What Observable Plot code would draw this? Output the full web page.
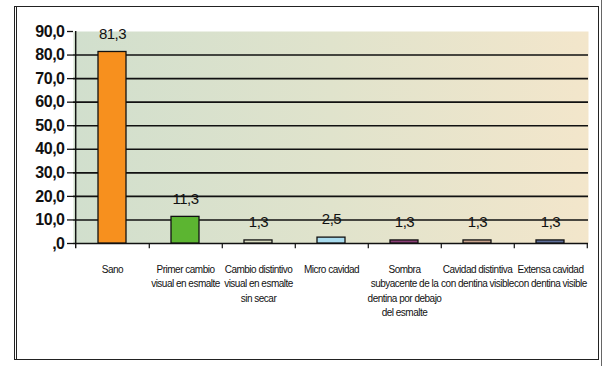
<!DOCTYPE html>
<html>
<head>
<meta charset="utf-8">
<script src="https://cdn.jsdelivr.net/npm/d3@7"></script>
<script src="https://cdn.jsdelivr.net/npm/@observablehq/plot@0.6"></script>
<style>
  html, body { margin: 0; padding: 0; background: #ffffff; }
  #wrap { position: relative; width: 604px; height: 366px; overflow: hidden; }
  #frame { position: absolute; left: 14px; top: 6px; width: 581px; height: 352px;
           border: 1.5px solid #222; border-left: 3px double #222; pointer-events: none; }
  #outer-r { position: absolute; left: 601px; top: 0; width: 0; height: 366px; border-left: 1px solid #666; }
</style>
</head>
<body>
<div id="wrap"><div id="chart"></div><div id="frame"></div><div id="outer-r"></div></div>
<script>
const categories = [
  "Sano",
  "Primer cambio\nvisual en esmalte",
  "Cambio distintivo\nvisual en esmalte\nsin secar",
  "Micro cavidad",
  "Sombra\nsubyacente de la\ndentina por debajo\ndel esmalte",
  "Cavidad distintiva\ncon dentina visible",
  "Extensa cavidad\ncon dentina visible"
];
const values = [81.3, 11.3, 1.3, 2.5, 1.3, 1.3, 1.3];
const colors = ["#f7901e", "#5cb531", "#d9dcc0", "#a9dcef", "#8a3f76", "#c9a48e", "#5f6f9a"];
const yTicks = [0, 10, 20, 30, 40, 50, 60, 70, 80, 90];
const gridValues = [10, 20, 30, 40, 50, 60, 70, 80];

const data = categories.map((c, i) => ({cat: c, value: values[i], color: colors[i]}));
const fmt = v => v === 0 ? ",0" : v.toFixed(1).replace(".", ",");

const W = 604, H = 366, mL = 73, mR = 16, mT = 31, mB = 123;
const step = (W - mL - mR) / categories.length;
const pad = 0.62;

const defs = () => {
  const d = d3.create("svg:defs");
  const g = d.append("linearGradient").attr("id", "bg").attr("x1", "0").attr("x2", "1").attr("y1", "0").attr("y2", "0");
  g.append("stop").attr("offset", "0%").attr("stop-color", "#d1dfcd");
  g.append("stop").attr("offset", "50%").attr("stop-color", "#e0e3cc");
  g.append("stop").attr("offset", "100%").attr("stop-color", "#f3e6cb");
  return d.node();
};

const chart = Plot.plot({
  width: W, height: H,
  marginLeft: mL, marginRight: mR, marginTop: mT, marginBottom: mB,
  style: {fontFamily: "'Liberation Sans', Arial, sans-serif", background: "transparent", overflow: "visible", letterSpacing: "-0.5px"},
  x: {domain: categories, type: "band", paddingInner: pad, paddingOuter: pad / 2, axis: null},
  y: {domain: [0, 90], axis: null},
  marks: [
    defs,
    Plot.frame({fill: "url(#bg)", stroke: "none"}),
    Plot.ruleY(gridValues, {stroke: "#111", strokeWidth: 1.6}),
    Plot.ruleY([0], {stroke: "#111", strokeWidth: 1.6}),
    Plot.ruleX([categories[0]], {dx: -step / 2, y1: -2.2, y2: 90, stroke: "#111", strokeWidth: 1.4}),
    Plot.ruleX(categories, {dx: step / 2, y1: 0, y2: -2.2, stroke: "#111", strokeWidth: 1.2}),
    Plot.axisY({ticks: yTicks, tickFormat: fmt, tickSize: 6, tickPadding: 3, fontSize: 16, fontWeight: "bold", color: "#111", strokeWidth: 1.3, label: null}),
    Plot.barY(data, {x: "cat", y: "value", fill: "color", stroke: "#111", strokeWidth: 1.3}),
    Plot.text(data, {x: "cat", y: "value", text: d => fmt(d.value), dy: -18, fontSize: 15, fill: "#111"}),
    Plot.text(categories, {x: d => d, text: d => d, frameAnchor: "bottom", y: null, dy: 19, lineAnchor: "top", lineHeight: 1.45, fontSize: 10, fill: "#111"})
  ]
});
document.getElementById("chart").appendChild(chart);
</script>
</body>
</html>
